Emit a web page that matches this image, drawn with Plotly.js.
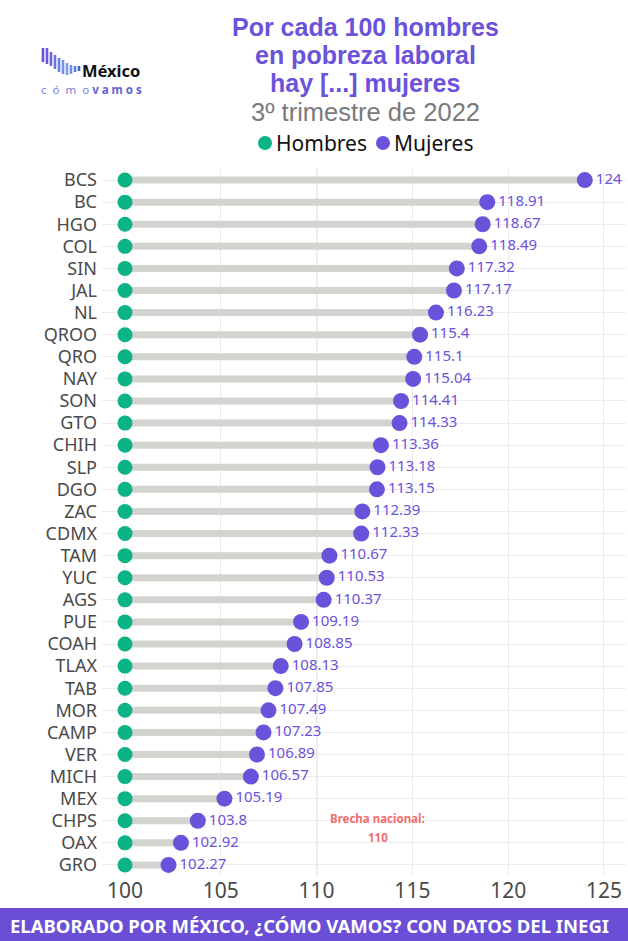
<!DOCTYPE html>
<html>
<head>
<meta charset="utf-8">
<script src="https://cdn.plot.ly/plotly-3.0.1.min.js"></script>
<style>html,body{margin:0;padding:0;background:#fff;}#chart{width:628px;height:941px;}</style>
</head>
<body>
<div id="chart"></div>
<script>
const estados = ["BCS","BC","HGO","COL","SIN","JAL","NL","QROO","QRO","NAY","SON","GTO","CHIH","SLP","DGO","ZAC","CDMX","TAM","YUC","AGS","PUE","COAH","TLAX","TAB","MOR","CAMP","VER","MICH","MEX","CHPS","OAX","GRO"];
const mujeres = [124,118.91,118.67,118.49,117.32,117.17,116.23,115.4,115.1,115.04,114.41,114.33,113.36,113.18,113.15,112.39,112.33,110.67,110.53,110.37,109.19,108.85,108.13,107.85,107.49,107.23,106.89,106.57,105.19,103.8,102.92,102.27];
const hombres = estados.map(() => 100);
const brechaNacional = 110;
const xTicks = [100,105,110,115,120,125];
const seriesNames = ["Hombres","Mujeres"];
const titleLines = ["Por cada 100 hombres","en pobreza laboral","hay [...] mujeres"];

const FONT = "Noto Sans, Open Sans, sans-serif";
const TFONT = "Liberation Sans, Arial, sans-serif";
const PURPLE = "#6b52da";
const GREEN = "#0bb386";

// pixel -> paper helpers (layout only)
const L = 102, T = 169, W = 524, H = 707;
const px = x => (x - L) / W;
const py = y => (T + H - y) / H;

// segments
const segX = [], segY = [];
estados.forEach((e, i) => { segX.push(hombres[i], mujeres[i], null); segY.push(e, e, null); });

const traces = [
  {x: segX, y: segY, type: "scatter", mode: "lines", line: {color: "#d3d3cf", width: 7},
   showlegend: false, hoverinfo: "skip"},
  {x: hombres, y: estados, type: "scatter", mode: "markers", name: seriesNames[0],
   marker: {color: GREEN, size: 15}, showlegend: false},
  {x: mujeres, y: estados, type: "scatter", mode: "markers+text", name: seriesNames[1],
   marker: {color: PURPLE, size: 16}, showlegend: false,
   text: mujeres.map(v => String(v)), textposition: "middle right",
   textfont: {family: FONT, size: 15, color: PURPLE}, cliponaxis: false}
];

// logo bars: [x, top, bottom]
const logoBars = [[43,48,62],[47,48,64],[51,52,66],[55,55,69],[59,58,72],[63,60,74],[67,63,75],[71,65,74],[75,66,72],[79,66,71]];
const logoColors = ["#6b4fd6","#6a58da","#6a63dd","#6a70df","#6c80e2","#7391e5","#7a9be6","#6f8fe2","#5a7bd8","#3f5fc8"];

const shapes = [
  {type: "line", xref: "x", yref: "paper", x0: brechaNacional, x1: brechaNacional, y0: 0, y1: 1,
   line: {color: "#f28b8b", width: 1.2}, layer: "below"},
  {type: "rect", xref: "paper", yref: "paper", x0: px(0), x1: px(628), y0: py(908), y1: py(945),
   fillcolor: "#6a4fd6", line: {width: 0}}
];
logoBars.forEach((b, i) => shapes.push({type: "line", xref: "paper", yref: "paper",
  x0: px(b[0]), x1: px(b[0]), y0: py(b[1]), y1: py(b[2]), line: {color: logoColors[i], width: 2.6}}));

// manual legend
const legendItems = [[265, 275, GREEN], [383, 393, PURPLE]];
legendItems.forEach(it => shapes.push({type: "circle", xref: "paper", yref: "paper",
  x0: px(it[0] - 7), x1: px(it[0] + 7), y0: py(150), y1: py(136), fillcolor: it[2], line: {width: 0}}));

const annotations = [];
const titleY = [27, 55, 83];
titleLines.forEach((t, i) => annotations.push({xref: "paper", yref: "paper", x: px(365), y: py(titleY[i]),
  xanchor: "center", yanchor: "middle", text: "<b>" + t + "</b>", showarrow: false, borderpad: 0,
  font: {family: TFONT, size: 25, color: PURPLE}}));
annotations.push(
  {xref: "paper", yref: "paper", x: px(365), y: py(112.5), xanchor: "center", yanchor: "middle",
   text: "3º trimestre de 2022", showarrow: false, borderpad: 0, font: {family: TFONT, size: 25.5, color: "#7a7a7a"}},
  {xref: "x", yref: "paper", x: 113.2, y: py(818), xanchor: "center", yanchor: "middle",
   text: "<b>Brecha nacional:</b>", showarrow: false, font: {family: FONT, size: 11.5, color: "#f26d6d"}},
  {xref: "x", yref: "paper", x: 113.2, y: py(837), xanchor: "center", yanchor: "middle",
   text: "<b>" + brechaNacional + "</b>", showarrow: false, font: {family: FONT, size: 11.5, color: "#f26d6d"}},
  {xref: "paper", yref: "paper", x: px(8), y: py(925), xanchor: "left", yanchor: "middle",
   text: "<b>ELABORADO POR MÉXICO, ¿CÓMO VAMOS? CON DATOS DEL INEGI</b>", showarrow: false,
   font: {family: FONT, size: 18.5, color: "#ffffff"}},
  {xref: "paper", yref: "paper", x: px(81), y: py(70.5), xanchor: "left", yanchor: "middle",
   text: "<b>México</b>", showarrow: false, borderpad: 0, font: {family: FONT, size: 16.5, color: "#111"}},
  {xref: "paper", yref: "paper", x: px(40), y: py(89), xanchor: "left", yanchor: "middle",
   text: "<span style='color:#7b7fe0'>c  ó  m  o </span><b>v a m o s</b>", showarrow: false, borderpad: 0,
   font: {family: FONT, size: 11.5, color: "#5a63d8"}}
);
legendItems.forEach((it, i) => annotations.push({xref: "paper", yref: "paper", x: px(it[1]), y: py(143),
  xanchor: "left", yanchor: "middle", text: seriesNames[i], showarrow: false, borderpad: 0,
  font: {family: FONT, size: 21, color: "#111"}}));

const layout = {
  width: 628, height: 941,
  margin: {l: L, r: 628 - L - W, t: T, b: 941 - T - H},
  paper_bgcolor: "#fff", plot_bgcolor: "#fff",
  font: {family: FONT},
  showlegend: false,
  xaxis: {range: [98.8, 126.15], tickvals: xTicks, ticktext: xTicks.map(String),
          showgrid: true, gridcolor: "#ebebeb", gridwidth: 1, zeroline: false,
          showline: false, ticks: "", tickfont: {family: FONT, size: 21, color: "#4a4a4a"}},
  yaxis: {type: "category", categoryarray: estados, categoryorder: "array",
          tickmode: "array", tickvals: estados, ticktext: estados,
          range: [estados.length - 0.5, -0.5], showgrid: true, gridcolor: "#ebebeb", gridwidth: 1,
          zeroline: false, showline: false, ticks: "", ticklabelstandoff: 4,
          tickfont: {family: FONT, size: 18, color: "#4a4a4a"}},
  shapes: shapes,
  annotations: annotations
};

Plotly.newPlot("chart", traces, layout, {displayModeBar: false, staticPlot: true});
</script>
</body>
</html>
